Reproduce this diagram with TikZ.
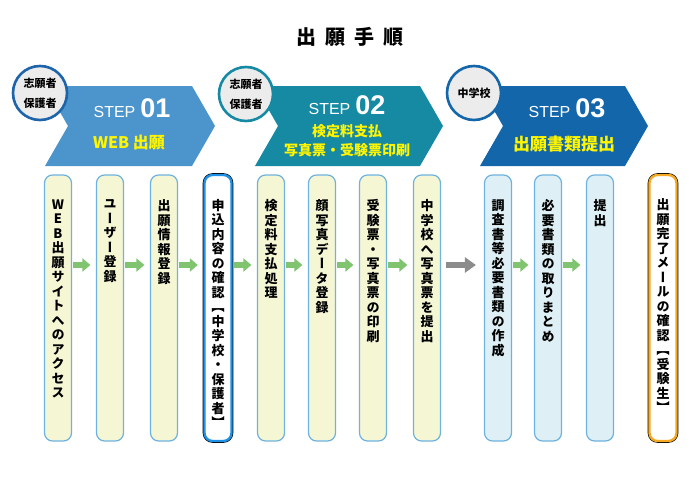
\documentclass[tikz,border=0pt]{standalone}
\usepackage{fontspec}
\setmainfont{Noto Sans CJK JP}
\newfontfamily\jpfont{Noto Sans CJK JP}
\newfontfamily\tatefont{Noto Sans CJK JP}[RawFeature=+vert]
\newfontfamily\stepfont{Liberation Sans}
\usepackage{tikz}
\usetikzlibrary{arrows.meta}
\usetikzlibrary{positioning}
\usepackage{xcolor}

\definecolor{stepA}{RGB}{75,148,204}
\definecolor{stepB}{RGB}{22,137,163}
\definecolor{stepC}{RGB}{20,102,170}
\definecolor{ringA}{RGB}{30,100,170}
\definecolor{ringgray}{RGB}{236,236,236}
\definecolor{paleyellow}{RGB}{245,247,212}
\definecolor{paleblue}{RGB}{222,240,246}
\definecolor{edgeblue}{RGB}{110,178,224}
\definecolor{checkblue}{RGB}{30,144,230}
\definecolor{mailorange}{RGB}{245,168,35}
\definecolor{flowgreen}{RGB}{128,196,112}
\definecolor{flowgray}{RGB}{140,140,140}
\definecolor{stepyellow}{RGB}{255,245,0}

% one character per line, for the upright column texts
\def\tateend{tateend}
\newcommand\tate[1]{\expandafter\tateloop#1\tateend}
\def\tateloop#1#2{#1\ifx#2\tateend\else\\\expandafter\tateloop\expandafter#2\fi}

\begin{document}
\begin{tikzpicture}[ x=1pt, y=-1pt,
    colbox/.style={draw=edgeblue, line width=1.2pt, rounded corners=8pt,
      minimum width=27pt, minimum height=266pt, inner sep=0pt},
    yelbox/.style={colbox, fill=paleyellow},
    bluebox/.style={colbox, fill=paleblue},
    confirmbox/.style={colbox, fill=white, draw=checkblue, line width=2.4pt,
      preaction={draw=black, line width=3.6pt}},
    finalbox/.style={colbox, fill=white, draw=mailorange, line width=2.4pt,
      preaction={draw=black, line width=3.6pt}},
    coltext/.style={anchor=north, inner sep=0pt, align=center,
      font=\tatefont\bfseries\fontsize{13}{14.5}\selectfont},
    whocircle/.style={circle, fill=ringgray, line width=2.6pt,
      minimum size=54pt, inner sep=0pt, align=center,
      font=\jpfont\bfseries\fontsize{11}{20}\selectfont},
    stepword/.style={anchor=base, inner sep=0pt, white,
      font=\stepfont\fontsize{16}{16}\selectfont},
    stepname/.style={inner sep=0pt, align=center, text=stepyellow,
      font=\jpfont\bfseries\fontsize{16}{19}\selectfont},
    flowarrow/.style={flowgreen, line width=5.5pt,
      -{Triangle[width=13pt, length=8pt]}, shorten <=1pt, shorten >=5.5pt},
    bigarrow/.style={flowgray, line width=6pt,
      -{Triangle[width=15pt, length=11pt]}, shorten <=5pt, shorten >=8pt} ]
  \newcommand\stepnum{\bfseries\fontsize{27}{27}\selectfont}

  \useasboundingbox (0,0) rectangle (700,495);

  % Title
  \node[font=\jpfont\bfseries\fontsize{20}{20}\selectfont] (title) at (350,37)
    {出\hspace{9pt}願\hspace{9pt}手\hspace{9pt}順};

  % Step banners
  \foreach \l/\r/\c in {45/192/stepA, 255/420/stepB, 480/625/stepC}
    \fill[\c] (\l,86) -- (\r,86) -- ({\r+23},126) -- (\r,166) -- (\l,166)
      -- ({\l+23},126) -- cycle;

  % Who does each step
  \node[whocircle, draw=ringA] (who1) at (40,93) {志願者\\保護者};
  \node[whocircle, draw=stepB] (who2) at (246,94) {志願者\\保護者};
  \node[whocircle, draw=stepC] (who3) at (474,93) {中学校};

  % Banner texts
  \node[stepword] (step1) at (132,117) {STEP\hspace{5pt}{\stepnum 01}};
  \node[stepword] (step2) at (347,114) {STEP\hspace{5pt}{\stepnum 02}};
  \node[stepword] (step3) at (567,117) {STEP\hspace{5pt}{\stepnum 03}};
  \node[stepname] (name1) at (129,143) {WEB 出願};
  \node[stepname, font=\jpfont\bfseries\fontsize{14}{19}\selectfont] (name2)
    at (347,140.5) {検定料支払\\写真票・受験票印刷};
  \node[stepname, font=\jpfont\bfseries\fontsize{17}{19}\selectfont] (name3)
    at (564,144.5) {出願書類提出};

  % Columns
  \foreach \n/\x/\kind/\txt in {
      1/58/yelbox/WEB出願サイトへのアクセス,
      2/110/yelbox/ユーザー登録,
      3/164/yelbox/出願情報登録,
      4/218/confirmbox/申込内容の確認【中学校・保護者】,
      5/271/yelbox/検定料支払処理,
      6/322/yelbox/顔写真データ登録,
      7/373/yelbox/受験票・写真票の印刷,
      8/427/yelbox/中学校へ写真票を提出,
      9/498/bluebox/調査書等必要書類の作成,
      10/548/bluebox/必要書類の取りまとめ,
      11/600/bluebox/提出,
      12/663/finalbox/出願完了メールの確認【受験生】} {
    \node[\kind] (c\n) at (\x,308) {};
    \node[coltext] (t\n) at ([yshift=-25pt]c\n.north) {\tate{\txt}};
  }

  % Arrows
  \coordinate (ay) at (0,265);
  \foreach \a/\b in {1/2, 2/3, 3/4, 4/5, 5/6, 6/7, 7/8, 9/10, 10/11}
    \draw[flowarrow] (c\a.east |- ay) -- (c\b.west |- ay);
  \draw[bigarrow] (c8.east |- ay) -- (c9.west |- ay);
\end{tikzpicture}
\end{document}
